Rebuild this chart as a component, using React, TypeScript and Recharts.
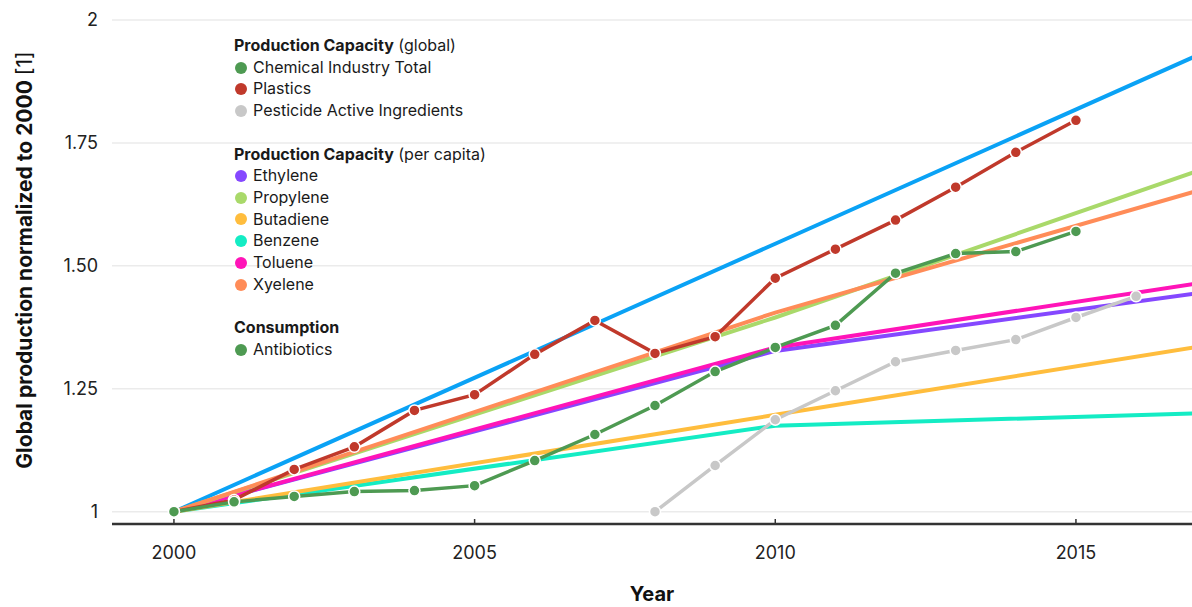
import { LineChart, Line, XAxis, YAxis, CartesianGrid, Legend, Label } from 'recharts';

const FONT = 'Inter, "Noto Sans", sans-serif';

// global production capacity, yearly
const annualYears = [2000, 2001, 2002, 2003, 2004, 2005, 2006, 2007, 2008, 2009, 2010, 2011, 2012, 2013, 2014, 2015];
const plasticsValues = [1.0, 1.024, 1.086, 1.132, 1.206, 1.238, 1.32, 1.389, 1.322, 1.356, 1.475, 1.534, 1.593, 1.66, 1.731, 1.796];
const chemicalValues = [1.0, 1.02, 1.031, 1.041, 1.043, 1.053, 1.104, 1.157, 1.216, 1.285, 1.334, 1.379, 1.485, 1.525, 1.529, 1.57];
const pesticideYears = [2008, 2009, 2010, 2011, 2012, 2013, 2014, 2015, 2016];
const pesticideValues = [1.0, 1.094, 1.187, 1.246, 1.305, 1.328, 1.35, 1.395, 1.438];

// per capita capacity (trend lines)
const trendYears = [2000, 2010, 2017];
const totalTrendValues = [1, 1.545, 1.927];
const ethyleneValues = [1, 1.327, 1.444];
const propyleneValues = [1, 1.395, 1.692];
const butadieneValues = [1, 1.197, 1.335];
const benzeneValues = [1, 1.175, 1.2];
const tolueneValues = [1, 1.334, 1.464];
const xyleneValues = [1, 1.405, 1.652];

const yearTicks = [2000, 2005, 2010, 2015];
const valueTicks = [1, 1.25, 1.5, 1.75, 2];

const legendGroups = [
  { title: 'Production Capacity', note: '(global)', items: [['Chemical Industry Total', '#4e9a52'], ['Plastics', '#c0392b'], ['Pesticide Active Ingredients', '#c8c8c8']] },
  { title: 'Production Capacity', note: '(per capita)', items: [['Ethylene', '#8548ff'], ['Propylene', '#a9d96a'], ['Butadiene', '#ffbd3d'], ['Benzene', '#14ecc4'], ['Toluene', '#ff14b8'], ['Xyelene', '#ff8c58']] },
  { title: 'Consumption', note: '', items: [['Antibiotics', '#4e9a52']] },
];

const toPoints = (years: number[], values: number[]) => years.map((year, i) => ({ year, value: values[i] }));

const trendSeries = [
  { name: 'Total trend', color: '#0aa2f5', values: totalTrendValues },
  { name: 'Benzene', color: '#14ecc4', values: benzeneValues },
  { name: 'Butadiene', color: '#ffbd3d', values: butadieneValues },
  { name: 'Ethylene', color: '#8548ff', values: ethyleneValues },
  { name: 'Toluene', color: '#ff14b8', values: tolueneValues },
  { name: 'Propylene', color: '#a9d96a', values: propyleneValues },
  { name: 'Xyelene', color: '#ff8c58', values: xyleneValues },
];

const dotSeries = [
  { name: 'Pesticide Active Ingredients', color: '#c8c8c8', data: toPoints(pesticideYears, pesticideValues) },
  { name: 'Plastics', color: '#c0392b', data: toPoints(annualYears, plasticsValues) },
  { name: 'Chemical Industry Total', color: '#4e9a52', data: toPoints(annualYears, chemicalValues) },
];

const YearTick = ({ x, y, payload }: any) => (
  <g>
    <line x1={x} x2={x} y1={y} y2={y - 5} stroke="#333" strokeWidth={1.5} />
    <text x={x} y={y + 28} textAnchor="middle" dominantBaseline="central" fontFamily={FONT} fontSize={18} fill="#222">
      {payload.value}
    </text>
  </g>
);

const YTitle = ({ viewBox }: any) => {
  const cy = viewBox.y + viewBox.height / 2 - 12;
  return (
    <text transform={`translate(24, ${cy}) rotate(-90)`} textAnchor="middle" dominantBaseline="central" fontFamily={FONT} fontSize={21} fill="#111">
      <tspan fontWeight={700}>Global production normalized to 2000 </tspan>
      <tspan fontWeight={400}>[1]</tspan>
    </text>
  );
};

const GroupedLegend = () => (
  <div style={{ fontFamily: FONT, fontSize: 16, color: '#1a1a1a', lineHeight: '21.7px' }}>
    {legendGroups.map((g, gi) => (
      <div key={gi} style={{ marginBottom: gi < legendGroups.length - 1 ? 21.7 : 0 }}>
        <div>
          <span style={{ fontWeight: 700 }}>{g.title}</span> {g.note}
        </div>
        {g.items.map(([label, color]) => (
          <div key={label} style={{ display: 'flex', alignItems: 'center' }}>
            <span style={{ width: 12, height: 12, borderRadius: 6, background: color, marginLeft: 1, marginRight: 6 }} />
            {label}
          </div>
        ))}
      </div>
    ))}
  </div>
);

export default function App() {
  return (
    <div style={{ position: 'absolute', left: 0, top: 0, background: '#fff' }}>
      <LineChart width={1192} height={607} margin={{ top: 20, right: 0, bottom: 0, left: 0 }}>
        <CartesianGrid horizontal vertical={false} stroke="#ebebeb" strokeWidth={1.5} />
        <XAxis
          type="number"
          dataKey="year"
          domain={[1998.97, 2016.93]}
          ticks={yearTicks}
          allowDataOverflow
          height={83}
          tickSize={0}
          tickMargin={0}
          tickLine={false}
          tick={<YearTick />}
          axisLine={{ stroke: '#333', strokeWidth: 2.5 }}
        >
          <Label value="Year" position="insideBottom" offset={6} style={{ fontFamily: FONT, fontSize: 20, fontWeight: 700, fill: '#111' }} />
        </XAxis>
        <YAxis
          type="number"
          domain={[0.975, 2]}
          ticks={valueTicks}
          allowDataOverflow
          width={112}
          axisLine={false}
          tickLine={false}
          tickSize={6}
          tickMargin={8}
          tickFormatter={(v: number) => (v === 1 || v === 2 ? String(v) : v.toFixed(2))}
          tick={{ fontFamily: FONT, fontSize: 18, fill: '#222' }}
        >
          <Label content={<YTitle />} />
        </YAxis>
        <Legend
          layout="vertical"
          align="center"
          verticalAlign="middle"
          content={<GroupedLegend />}
          wrapperStyle={{ top: 35, left: 234, width: 320 }}
        />
        {trendSeries.map((s) => (
          <Line
            key={s.name}
            data={toPoints(trendYears, s.values)}
            dataKey="value"
            name={s.name}
            stroke={s.color}
            strokeWidth={4}
            dot={false}
            type="linear"
            isAnimationActive={false}
            legendType="none"
          />
        ))}
        {dotSeries.map((s) => (
          <Line
            key={s.name}
            data={s.data}
            dataKey="value"
            name={s.name}
            stroke={s.color}
            strokeWidth={3.5}
            dot={{ r: 5.5, fill: s.color, stroke: '#fff', strokeWidth: 1.5 }}
            type="linear"
            isAnimationActive={false}
            legendType="none"
          />
        ))}
      </LineChart>
    </div>
  );
}
